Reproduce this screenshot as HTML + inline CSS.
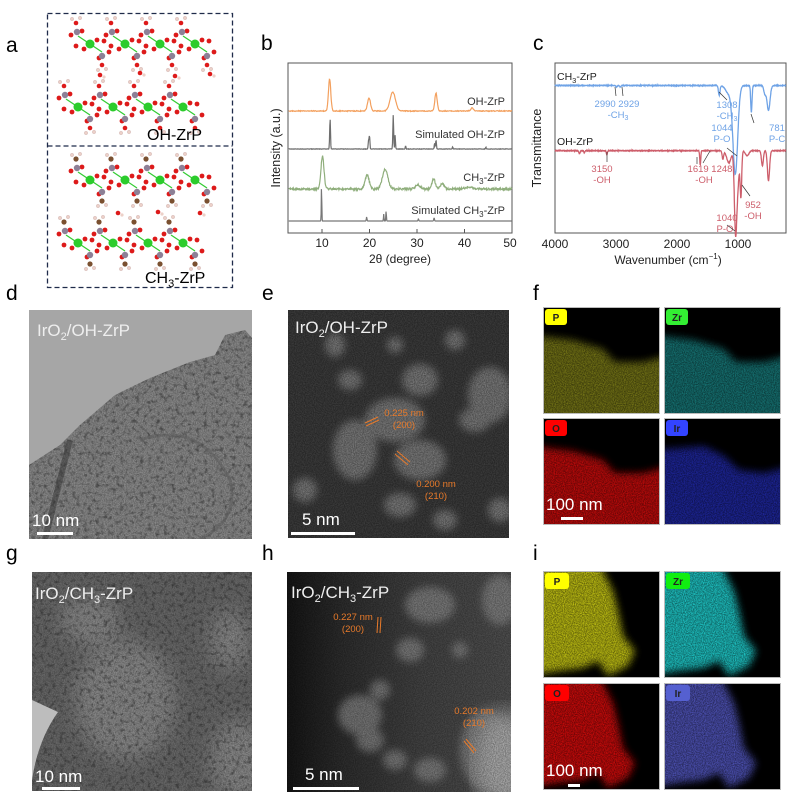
<!DOCTYPE html>
<html><head><meta charset="utf-8"><style>
html,body{margin:0;padding:0;background:#fff;}
svg{display:block;font-family:"Liberation Sans",Arial,sans-serif;}
</style></head><body>
<svg id="s" width="792" height="806" viewBox="0 0 792 806" xmlns="http://www.w3.org/2000/svg">
<defs>
<filter id="grain" x="0" y="0" width="100%" height="100%"><feTurbulence type="fractalNoise" baseFrequency="0.9" numOctaves="2" seed="3" result="n"/><feColorMatrix in="n" type="matrix" values="0 0 0 0 0 0 0 0 0 0 0 0 0 0 0 2.2 0 0 0 -0.55" result="a"/><feComposite in="SourceGraphic" in2="a" operator="in"/></filter>
<filter id="dots" x="0" y="0" width="100%" height="100%"><feTurbulence type="fractalNoise" baseFrequency="0.25" numOctaves="2" seed="7" result="n"/><feColorMatrix in="n" type="matrix" values="0 0 0 0 0 0 0 0 0 0 0 0 0 0 0 3 0 0 0 -1.5" result="a"/><feComposite in="SourceGraphic" in2="a" operator="in"/></filter>
<filter id="blur3"><feGaussianBlur stdDeviation="4"/></filter>
<filter id="blur8"><feGaussianBlur stdDeviation="10"/></filter>
<linearGradient id="hg" x1="0" x2="1" y1="0" y2="0"><stop offset="0" stop-color="#151515"/><stop offset="0.25" stop-color="#2e2e2e"/><stop offset="0.6" stop-color="#444"/><stop offset="1" stop-color="#505050"/></linearGradient>
<clipPath id="cd"><rect x="29" y="310" width="223" height="229"/></clipPath>
<clipPath id="ce"><rect x="288" y="310" width="221" height="228"/></clipPath>
<clipPath id="cg"><rect x="32" y="572" width="220" height="219"/></clipPath>
<clipPath id="ch"><rect x="287" y="572" width="224" height="220"/></clipPath>
</defs>

<g font-size="21" fill="#000">
<text x="6" y="52">a</text><text x="261" y="50">b</text><text x="533" y="50">c</text>
<text x="6" y="300">d</text><text x="262" y="300">e</text><text x="533" y="300">f</text>
<text x="6" y="560">g</text><text x="262" y="560">h</text><text x="533" y="560">i</text>
</g>

<rect x="47.5" y="13.5" width="185" height="274" fill="none" stroke="#1f2b4a" stroke-width="1.3" stroke-dasharray="5,3"/>
<line x1="47.5" y1="146" x2="232.5" y2="146" stroke="#1f2b4a" stroke-width="1.3" stroke-dasharray="5,3"/>
<g id="mol"></g>
<text x="147" y="140" font-size="16">OH-ZrP</text>
<text x="145" y="283" font-size="16">CH<tspan font-size="11" dy="4">3</tspan><tspan dy="-4">-ZrP</tspan></text>

<rect x="288" y="63" width="224" height="170" fill="#fff" stroke="#555" stroke-width="1"/>
<g id="bcurves"></g>
<g font-size="11" fill="#333">
<text x="505" y="105" text-anchor="end">OH-ZrP</text>
<text x="505" y="138" text-anchor="end">Simulated OH-ZrP</text>
<text x="505" y="181" text-anchor="end">CH<tspan font-size="8" dy="3">3</tspan><tspan dy="-3">-ZrP</tspan></text>
<text x="505" y="214" text-anchor="end">Simulated CH<tspan font-size="8" dy="3">3</tspan><tspan dy="-3">-ZrP</tspan></text>
</g>
<g font-size="12" fill="#222" text-anchor="middle">
<text x="322" y="247">10</text><text x="369.5" y="247">20</text><text x="417" y="247">30</text><text x="464.5" y="247">40</text><text x="510" y="247">50</text>
<text x="400" y="263">2θ (degree)</text>
<text transform="translate(280,148) rotate(-90)" font-size="12.5">Intensity (a.u.)</text>
</g>
<g stroke="#555" stroke-width="1">
<line x1="322" y1="233" x2="322" y2="229"/><line x1="369.5" y1="233" x2="369.5" y2="229"/><line x1="417" y1="233" x2="417" y2="229"/><line x1="464.5" y1="233" x2="464.5" y2="229"/>
</g>

<rect x="555" y="63" width="231" height="170" fill="#fff" stroke="#555" stroke-width="1"/>
<g id="ccurves"></g>
<g font-size="10.5">
<text x="557" y="80" fill="#222">CH<tspan font-size="7.5" dy="3">3</tspan><tspan dy="-3">-ZrP</tspan></text>
<text x="557" y="145" fill="#222">OH-ZrP</text>
</g>
<g font-size="9.5" fill="#6fa3e6" text-anchor="middle">
<text x="617" y="107">2990 2929</text><text x="618" y="118">-CH<tspan font-size="7" dy="2">3</tspan></text>
<text x="727" y="108">1308</text><text x="727" y="119">-CH<tspan font-size="7" dy="2">3</tspan></text>
<text x="777" y="131">781</text><text x="777" y="142">P-C</text>
<text x="722" y="131">1044</text><text x="722" y="142">P-O</text>
</g>
<g font-size="9.5" fill="#cd5e6b" text-anchor="middle">
<text x="602" y="172">3150</text><text x="602" y="183">-OH</text>
<text x="710" y="172">1619 1248</text><text x="704" y="183">-OH</text>
<text x="753" y="208">952</text><text x="753" y="219">-OH</text>
<text x="727" y="221">1040</text><text x="725" y="232">P-O</text>
</g>
<g stroke="#333" stroke-width="0.7" fill="none">
<line x1="615" y1="87" x2="616" y2="96"/><line x1="622" y1="87" x2="623" y2="96"/>
<line x1="719" y1="92" x2="727" y2="100"/><line x1="751" y1="114" x2="754" y2="123"/>
<line x1="727" y1="148" x2="737" y2="156"/>
<line x1="607" y1="152" x2="607" y2="162"/><line x1="697" y1="157" x2="697" y2="164"/><line x1="710" y1="151" x2="703" y2="163"/>
<line x1="742" y1="185" x2="750" y2="196"/><line x1="727" y1="225" x2="735" y2="231"/>
</g>
<g font-size="12" fill="#222" text-anchor="middle">
<text x="555" y="248">4000</text><text x="616" y="248">3000</text><text x="677" y="248">2000</text><text x="738" y="248">1000</text>
<text x="668" y="264">Wavenumber (cm<tspan font-size="8" dy="-5">−1</tspan><tspan dy="5">)</tspan></text>
<text transform="translate(541,148) rotate(-90)" font-size="12.5">Transmittance</text>
</g>

<g clip-path="url(#cd)">
<rect x="29" y="310" width="223" height="229" fill="#8c8c8c"/>
<rect x="29" y="310" width="223" height="229" fill="#3a3a3a" filter="url(#dots)" opacity="0.7"/>
<rect x="29" y="310" width="223" height="229" fill="#222" filter="url(#grain)" opacity="0.35"/>
<path d="M29,310 L252,310 L252,338 L245,330 L225,335 L215,355 L190,362 L150,378 L115,395 L80,425 L60,445 L29,465 Z" fill="#a6a6a6"/>
<path d="M140,440 Q200,420 230,480 Q240,520 200,539" stroke="#555" stroke-width="3" fill="none" opacity="0.5"/>
<path d="M70,440 L45,539" stroke="#333" stroke-width="6" opacity="0.5"/>
</g>
<text x="37" y="336" font-size="17" fill="#eee">IrO<tspan font-size="11" dy="4">2</tspan><tspan dy="-4">/OH-ZrP</tspan></text>
<text x="32" y="526" font-size="17" fill="#fff">10 nm</text>
<rect x="37" y="532" width="36" height="3" fill="#fff"/>

<g clip-path="url(#ce)">
<rect x="288" y="310" width="221" height="228" fill="#3c3c3c"/>
<g fill="#8e8e8e" filter="url(#blur3)" opacity="0.75">
<ellipse cx="395" cy="420" rx="30" ry="22"/><ellipse cx="420" cy="460" rx="26" ry="20"/><ellipse cx="355" cy="450" rx="22" ry="30"/>
<ellipse cx="420" cy="380" rx="18" ry="16"/><ellipse cx="490" cy="395" rx="22" ry="28"/><ellipse cx="475" cy="420" rx="16" ry="12"/>
<ellipse cx="350" cy="380" rx="12" ry="10"/><ellipse cx="335" cy="345" rx="10" ry="12"/><ellipse cx="400" cy="505" rx="16" ry="12"/>
<ellipse cx="305" cy="490" rx="12" ry="12"/><ellipse cx="455" cy="340" rx="10" ry="10"/><ellipse cx="500" cy="510" rx="12" ry="12"/>
<ellipse cx="395" cy="345" rx="8" ry="8"/><ellipse cx="445" cy="520" rx="12" ry="10"/>
</g>
<rect x="288" y="310" width="221" height="228" fill="#000" filter="url(#grain)" opacity="0.35"/>
</g>
<text x="295" y="333" font-size="17" fill="#eee">IrO<tspan font-size="11" dy="4">2</tspan><tspan dy="-4">/OH-ZrP</tspan></text>
<g font-size="9.5" fill="#e87a2a" text-anchor="middle"><text x="404" y="416">0.225 nm</text><text x="404" y="428">(200)</text><text x="436" y="487">0.200 nm</text><text x="436" y="499">(210)</text></g>
<g stroke="#e87a2a" stroke-width="1"><line x1="365" y1="423" x2="378" y2="417"/><line x1="366" y1="426" x2="379" y2="420"/><line x1="397" y1="451" x2="410" y2="462"/><line x1="395" y1="454" x2="408" y2="465"/></g>
<text x="302" y="525" font-size="17" fill="#fff">5 nm</text>
<rect x="291" y="532" width="64" height="3" fill="#fff"/>

<g id="ftiles"></g>

<g clip-path="url(#cg)">
<rect x="32" y="572" width="220" height="219" fill="#6a6a6a"/>
<g fill="#9a9a9a" filter="url(#blur8)" opacity="0.7"><ellipse cx="125" cy="700" rx="50" ry="60"/><ellipse cx="90" cy="620" rx="30" ry="25"/><ellipse cx="240" cy="760" rx="30" ry="40"/><ellipse cx="230" cy="640" rx="20" ry="30"/></g>
<rect x="32" y="572" width="220" height="219" fill="#2a2a2a" filter="url(#dots)" opacity="0.6"/>
<rect x="32" y="572" width="220" height="219" fill="#111" filter="url(#grain)" opacity="0.3"/>
<path d="M32,780 Q38,740 58,712 L32,700 Z" fill="#bdbdbd"/>
</g>
<text x="35" y="599" font-size="17" fill="#eee">IrO<tspan font-size="11" dy="4">2</tspan><tspan dy="-4">/CH</tspan><tspan font-size="11" dy="4">3</tspan><tspan dy="-4">-ZrP</tspan></text>
<text x="35" y="782" font-size="17" fill="#fff">10 nm</text>
<rect x="42" y="787" width="38" height="3" fill="#fff"/>

<g clip-path="url(#ch)">
<rect x="287" y="572" width="224" height="220" fill="url(#hg)"/>
<g fill="#8a8a8a" filter="url(#blur3)" opacity="0.75">
<ellipse cx="430" cy="605" rx="25" ry="18"/><ellipse cx="410" cy="650" rx="14" ry="12"/><ellipse cx="360" cy="715" rx="22" ry="20"/><ellipse cx="370" cy="740" rx="14" ry="12"/>
<ellipse cx="395" cy="760" rx="12" ry="10"/><ellipse cx="430" cy="770" rx="16" ry="12"/><ellipse cx="485" cy="750" rx="25" ry="40"/><ellipse cx="500" cy="600" rx="18" ry="25"/>
<ellipse cx="380" cy="690" rx="10" ry="10"/><ellipse cx="460" cy="650" rx="8" ry="8"/>
</g>
<ellipse cx="505" cy="760" rx="30" ry="50" fill="#aaa" filter="url(#blur8)"/>
<rect x="287" y="572" width="224" height="220" fill="#000" filter="url(#grain)" opacity="0.3"/>
</g>
<text x="291" y="598" font-size="17" fill="#eee">IrO<tspan font-size="11" dy="4">2</tspan><tspan dy="-4">/CH</tspan><tspan font-size="11" dy="4">3</tspan><tspan dy="-4">-ZrP</tspan></text>
<g font-size="9.5" fill="#e87a2a" text-anchor="middle"><text x="353" y="620">0.227 nm</text><text x="353" y="632">(200)</text><text x="474" y="714">0.202 nm</text><text x="474" y="726">(210)</text></g>
<g stroke="#e87a2a" stroke-width="1"><line x1="378" y1="617" x2="377" y2="633"/><line x1="381" y1="617" x2="380" y2="633"/><line x1="466" y1="739" x2="476" y2="751"/><line x1="464" y1="741" x2="474" y2="753"/></g>
<text x="305" y="780" font-size="17" fill="#fff">5 nm</text>
<rect x="293" y="787" width="66" height="3" fill="#fff"/>

<g id="itiles"></g>
</svg>
<script>
var NS="http://www.w3.org/2000/svg";
function el(p,t,a){var e=document.createElementNS(NS,t);for(var k in a)e.setAttribute(k,a[k]);p.appendChild(e);return e;}
var mol=document.getElementById('mol');
function layer(y0,x0,methyl){
 for(var i=0;i<4;i++){var x=x0+i*35;
  el(mol,'line',{x1:x-12,y1:y0-8,x2:x+12,y2:y0+8,stroke:'#3c3',"stroke-width":1.2});
  var O=[[x-8,y0-13],[x-19,y0-9],[x+7,y0-4],[x-6,y0+5],[x+19,y0+8],[x+9,y0+14],[x-14,y0+2],[x+14,y0-3]];
  O.forEach(function(p){el(mol,'circle',{cx:p[0],cy:p[1],r:2.4,fill:'#dd1a1a'});});
  el(mol,'circle',{cx:x-13,cy:y0-12,r:3.2,fill:'#8d8096'});
  el(mol,'circle',{cx:x+12,cy:y0+12,r:3.2,fill:'#8d8096'});
  if(methyl){el(mol,'circle',{cx:x-14,cy:y0-21,r:2.6,fill:'#7a5030'});el(mol,'circle',{cx:x+12,cy:y0+21,r:2.6,fill:'#7a5030'});}
  else{el(mol,'circle',{cx:x-14,cy:y0-21,r:2.3,fill:'#dd1a1a'});el(mol,'circle',{cx:x+12,cy:y0+21,r:2.3,fill:'#dd1a1a'});}
  [[x-18,y0-25],[x-10,y0-26],[x+8,y0+26],[x+16,y0+25]].forEach(function(h){el(mol,'circle',{cx:h[0],cy:h[1],r:1.7,fill:'#ecd0c8',stroke:'#b99',"stroke-width":0.3});});
  el(mol,'circle',{cx:x,cy:y0,r:4.5,fill:'#2ccc2c'});
 }
}
layer(44,90,false);layer(107,78,false);layer(180,90,true);layer(243,78,true);
[[100,75],[140,73],[175,76],[210,74],[118,213],[158,212],[200,213]].forEach(function(p){el(mol,'circle',{cx:p[0],cy:p[1],r:2.3,fill:'#dd1a1a'});el(mol,'circle',{cx:p[0]+4,cy:p[1]+2,r:1.6,fill:'#ecd0c8'});});
function bx(t){return 322+(t-10)*4.75;}
function peaks(base,list,w,noise,col){
 var d='';for(var t=3;t<=50;t+=0.08){var y=base;list.forEach(function(p){y-=p[1]*Math.exp(-Math.pow((t-p[0])/(p[2]||w),2));});
 if(noise)y+=(Math.random()-0.5)*noise;d+=(d?'L':'M')+bx(t).toFixed(1)+','+y.toFixed(1);}
 el(document.getElementById('bcurves'),'path',{d:d,fill:'none',stroke:col,"stroke-width":1.2});
}
peaks(111,[[11.6,32,0.35],[19.9,13,0.45],[24.9,19,0.8],[34,18,0.35],[41.6,3,0.4]],0.4,0.8,'#f3a05e');
peaks(149,[[11.7,30,0.12],[20,13,0.12],[19.8,8,0.12],[25,34,0.12],[25.4,14,0.1],[34,9,0.12],[33.7,6,0.1],[27.6,3,0.1],[37.5,2,0.1],[44.5,2,0.1]],0.12,0.4,'#6e6e6e');
peaks(189,[[10.1,33,0.45],[19.5,14,0.6],[23.3,20,0.8],[33.5,10,0.5],[35.3,5,0.6],[30.2,4,0.8],[41,2,1]],0.5,2,'#8fae7c');
peaks(221,[[9.9,34,0.08],[19.4,4,0.1],[23,7,0.08],[23.5,10,0.08],[30.3,2,0.1],[33.6,3,0.1]],0.1,0,'#777');
function cx(w){return 555+(4000-w)*0.061;}
function ftir(base,list,col){var d='';for(var w=4000;w>=220;w-=3){var y=base;list.forEach(function(p){y+=p[1]*Math.exp(-Math.pow((w-p[0])/p[2],2));});y+=(Math.random()-0.5)*0.6;d+=(d?'L':'M')+cx(w).toFixed(1)+','+y.toFixed(1);}
 el(document.getElementById('ccurves'),'path',{d:d,fill:'none',stroke:col,"stroke-width":1.3});}
ftir(85.5,[[2990,1.5,15],[2929,1.5,15],[1308,10,18],[1044,88,55],[1150,8,70],[781,27,15],[500,25,35],[560,8,25]],'#6fa3e6');
ftir(150.7,[[3600,3,15],[3520,2,12],[3150,4,12],[1619,14,12],[1248,8,18],[1150,12,50],[1040,80,28],[952,45,18],[1000,30,30],[600,15,22],[500,30,25],[850,5,40]],'#cd5e6b');
var tid=0;
function tile(g,x,y,col,lab,labcol,labtext,poly,dim){
 tid++;var cp=el(g,'clipPath',{id:'tc'+tid});el(cp,'rect',{x:x,y:y,width:117,height:107});
 var gg=el(g,'g',{"clip-path":'url(#tc'+tid+')'});
 el(gg,'rect',{x:x,y:y,width:117,height:107,fill:'#000'});
 var pts=poly.map(function(p){return (x+p[0])+','+(y+p[1]);}).join(' ');
 el(gg,'polygon',{points:pts,fill:col,opacity:dim||0.75,filter:'url(#blur3)'});
 el(gg,'rect',{x:x,y:y,width:117,height:107,fill:'#000',filter:'url(#grain)',opacity:0.45});
 el(g,'rect',{x:x+0.5,y:y+0.5,width:116,height:106,fill:'none',stroke:'#bbb',"stroke-width":1});
 el(g,'rect',{x:x+2,y:y+2,width:lab,height:16,rx:3,fill:labcol});
 var t=el(g,'text',{x:x+2+lab/2,y:y+14,"font-size":10,"font-weight":"bold","text-anchor":"middle",fill:'#222'});t.textContent=labtext;
}
var fg=document.getElementById('ftiles');
var fp=[[-10,28],[30,33],[60,42],[72,55],[100,55],[127,48],[127,117],[-10,117]];
tile(fg,543,307,'#b0b020',22,'#ff0','P',fp,0.65);
tile(fg,664,307,'#22b0b0',22,'#3e3','Zr',fp,0.65);
tile(fg,543,418,'#e01010',22,'#f00','O',fp,0.85);
tile(fg,664,418,'#2a36d8',22,'#3344ff','Ir',[[-10,32],[40,28],[60,38],[75,52],[100,55],[127,48],[127,117],[-10,117]],0.7);
var ig=document.getElementById('itiles');
var ip=[[-10,-10],[55,-10],[70,20],[75,40],[80,65],[92,80],[85,95],[65,105],[55,90],[40,97],[15,100],[-10,104]];
tile(ig,543,571,'#d2d214',24,'#ff0','P',ip,0.9);
tile(ig,664,571,'#22d8d8',24,'#1e1','Zr',ip,0.9);
tile(ig,543,683,'#e01010',24,'#f00','O',ip,0.9);
tile(ig,664,683,'#5a5ed0',24,'#5560d0','Ir',ip,0.85);
var s=document.getElementById('s');
var t1=el(s,'text',{x:546,y:510,"font-size":17,fill:'#fff'});t1.textContent='100 nm';
el(s,'rect',{x:561,y:517,width:22,height:3,fill:'#fff'});
var t2=el(s,'text',{x:546,y:776,"font-size":17,fill:'#fff'});t2.textContent='100 nm';
el(s,'rect',{x:568,y:784,width:12,height:3,fill:'#fff'});
</script>
</body></html>
